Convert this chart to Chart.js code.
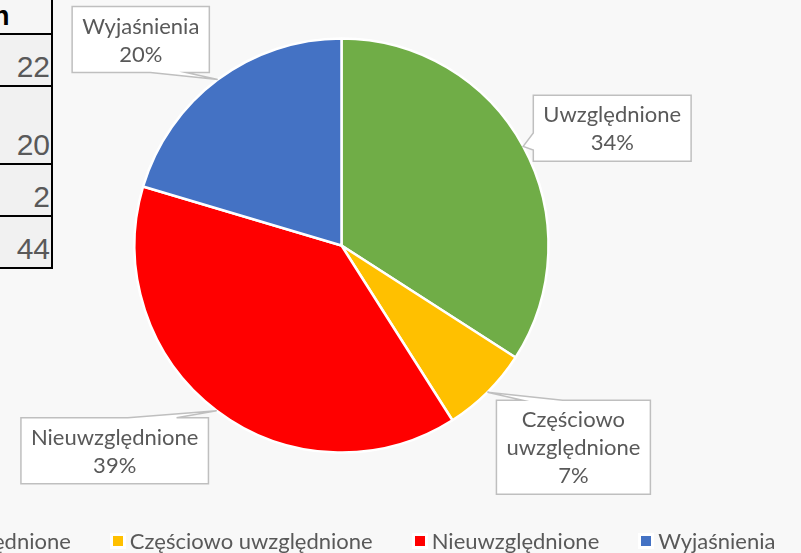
<!DOCTYPE html>
<html lang="pl">
<head>
<meta charset="utf-8">
<title>Sposób załatwienia</title>
<script src="https://cdn.jsdelivr.net/npm/chart.js@4.4.1/dist/chart.umd.min.js"></script>
<style>
  html, body { margin: 0; padding: 0; }
  body { width: 801px; height: 553px; overflow: hidden; position: relative; background: #f8f8f8; font-family: 'Lato', 'Open Sans', sans-serif; }
  #pieChart { position: absolute; left: 0; top: 0; }
  .cell { position: absolute; left: -20px; width: 71px; box-sizing: content-box; background: #f1f1f1;
          border-right: 2px solid #000; border-bottom: 2px solid #000;
          font-family: 'Liberation Sans', Arial, sans-serif; font-size: 30px; color: #595959;
          display: flex; justify-content: flex-end; align-items: flex-end; line-height: 1; }
  .cell span { padding-bottom: 3px; padding-right: 1px; }
  .cell.head { background: #f6f6f6; justify-content: flex-start; align-items: center; color: #000; font-weight: bold; font-size: 27px; }
  .cell.head span { padding: 0 0 0 13px; }
  #legend { position: absolute; left: -84px; top: 527px; height: 28px; display: flex; align-items: center;
            white-space: nowrap; font-size: 22px; color: #595959; line-height: 28px; }
  .item { display: flex; align-items: center; margin-right: 42px; }
  .swatch { width: 10px; height: 10px; outline: 3px solid #fff; margin-right: 7px; }
</style>
</head>
<body>
<canvas id="pieChart" width="801" height="553"></canvas>
<div id="table"></div>
<div id="legend"></div>
<script>
const categories = ['Uwzględnione', 'Częściowo uwzględnione', 'Nieuwzględnione', 'Wyjaśnienia'];
const values = [34.1, 6.9, 38.6, 20.4];
const colors = ['#70AD47', '#FFC000', '#FF0000', '#4472C4'];

// visible part of the table on the left
const tableHeader = 'n';
const tableValues = [22, 20, 2, 44];
const tableRowTops = [0, 35, 87, 165, 217];
const tableRowHeights = [33, 50, 76, 50, 50];

// callout box centre, relative to the point on the slice edge
const calloutOffsets = [[89, -18], [86, 55], [-102, 40], [-77, -40]];

const LABEL_FONT = '22px Lato, "Open Sans", sans-serif';
const LABEL_LINE = 28;

function buildTable() {
  const el = document.getElementById('table');
  const texts = [tableHeader].concat(tableValues.map(String));
  texts.forEach((t, i) => {
    const d = document.createElement('div');
    d.className = 'cell' + (i === 0 ? ' head' : '');
    d.style.top = tableRowTops[i] + 'px';
    d.style.height = tableRowHeights[i] + 'px';
    const s = document.createElement('span');
    s.textContent = t;
    d.appendChild(s);
    el.appendChild(d);
  });
}

function buildLegend() {
  const el = document.getElementById('legend');
  categories.forEach((c, i) => {
    const item = document.createElement('div');
    item.className = 'item';
    const sw = document.createElement('span');
    sw.className = 'swatch';
    sw.style.background = colors[i];
    const tx = document.createElement('span');
    tx.textContent = c;
    item.appendChild(sw);
    item.appendChild(tx);
    el.appendChild(item);
  });
}

function wrapText(ctx, text, maxWidth) {
  const words = text.split(' ');
  const lines = [];
  let cur = '';
  words.forEach(w => {
    const test = cur ? cur + ' ' + w : w;
    if (cur && ctx.measureText(test).width > maxWidth) {
      lines.push(cur);
      cur = w;
    } else {
      cur = test;
    }
  });
  if (cur) lines.push(cur);
  return lines;
}

const clamp = (v, a, b) => Math.max(a, Math.min(b, v));

const calloutPlugin = {
  id: 'callouts',
  afterDatasetsDraw(chart) {
    const ctx = chart.ctx;
    const meta = chart.getDatasetMeta(0);
    const total = values.reduce((a, b) => a + b, 0);
    ctx.save();
    ctx.font = LABEL_FONT;
    meta.data.forEach((arc, i) => {
      const p = arc.getProps(['x', 'y', 'startAngle', 'endAngle', 'outerRadius'], true);
      const mid = (p.startAngle + p.endAngle) / 2;
      const tipX = p.x + Math.cos(mid) * p.outerRadius;
      const tipY = p.y + Math.sin(mid) * p.outerRadius;

      const lines = wrapText(ctx, categories[i], 150);
      lines.push(Math.round(values[i] / total * 100) + '%');
      const w = Math.max(...lines.map(l => ctx.measureText(l).width)) + 20;
      const h = lines.length * LABEL_LINE + 10;
      const cx = tipX + calloutOffsets[i][0];
      const cy = tipY + calloutOffsets[i][1];
      const l = cx - w / 2, r = cx + w / 2, t = cy - h / 2, b = cy + h / 2;

      // which edge the pointer leaves from
      const nx = (tipX - cx) / (w / 2);
      const ny = (tipY - cy) / (h / 2);
      let edge;
      if (Math.abs(ny) >= Math.abs(nx)) edge = ny < 0 ? 'top' : 'bottom';
      else edge = nx < 0 ? 'left' : 'right';
      const horiz = edge === 'top' || edge === 'bottom';
      const len = horiz ? w : h;
      const hw = len * 0.13;
      const bc = horiz ? clamp(tipX, l + len * 0.3, r - len * 0.3) : clamp(tipY, t + len * 0.3, b - len * 0.3);

      ctx.beginPath();
      ctx.moveTo(l, t);
      if (edge === 'top') { ctx.lineTo(bc - hw, t); ctx.lineTo(tipX, tipY); ctx.lineTo(bc + hw, t); }
      ctx.lineTo(r, t);
      if (edge === 'right') { ctx.lineTo(r, bc - hw); ctx.lineTo(tipX, tipY); ctx.lineTo(r, bc + hw); }
      ctx.lineTo(r, b);
      if (edge === 'bottom') { ctx.lineTo(bc + hw, b); ctx.lineTo(tipX, tipY); ctx.lineTo(bc - hw, b); }
      ctx.lineTo(l, b);
      if (edge === 'left') { ctx.lineTo(l, bc + hw); ctx.lineTo(tipX, tipY); ctx.lineTo(l, bc - hw); }
      ctx.closePath();
      ctx.fillStyle = '#ffffff';
      ctx.fill();
      ctx.lineWidth = 1.5;
      ctx.strokeStyle = '#bfbfbf';
      ctx.stroke();

      ctx.fillStyle = '#595959';
      ctx.textAlign = 'center';
      ctx.textBaseline = 'middle';
      lines.forEach((line, k) => {
        ctx.fillText(line, cx, cy + (k - (lines.length - 1) / 2) * LABEL_LINE + 1);
      });
    });
    ctx.restore();
  },
};

function init() {
  buildTable();
  buildLegend();
  const ctx = document.getElementById('pieChart').getContext('2d');
  new Chart(ctx, {
    type: 'pie',
    data: {
      labels: categories,
      datasets: [{
        data: values,
        backgroundColor: colors,
        borderColor: '#ffffff',
        borderWidth: 2.5,
        radius: 207,
      }],
    },
    options: {
      responsive: false,
      animation: false,
      devicePixelRatio: 1,
      layout: { padding: { left: 0, right: 118, top: 0, bottom: 62 } },
      plugins: {
        legend: { display: false },
        tooltip: { enabled: false },
      },
    },
    plugins: [calloutPlugin],
  });
}

init();
</script>
</body>
</html>
